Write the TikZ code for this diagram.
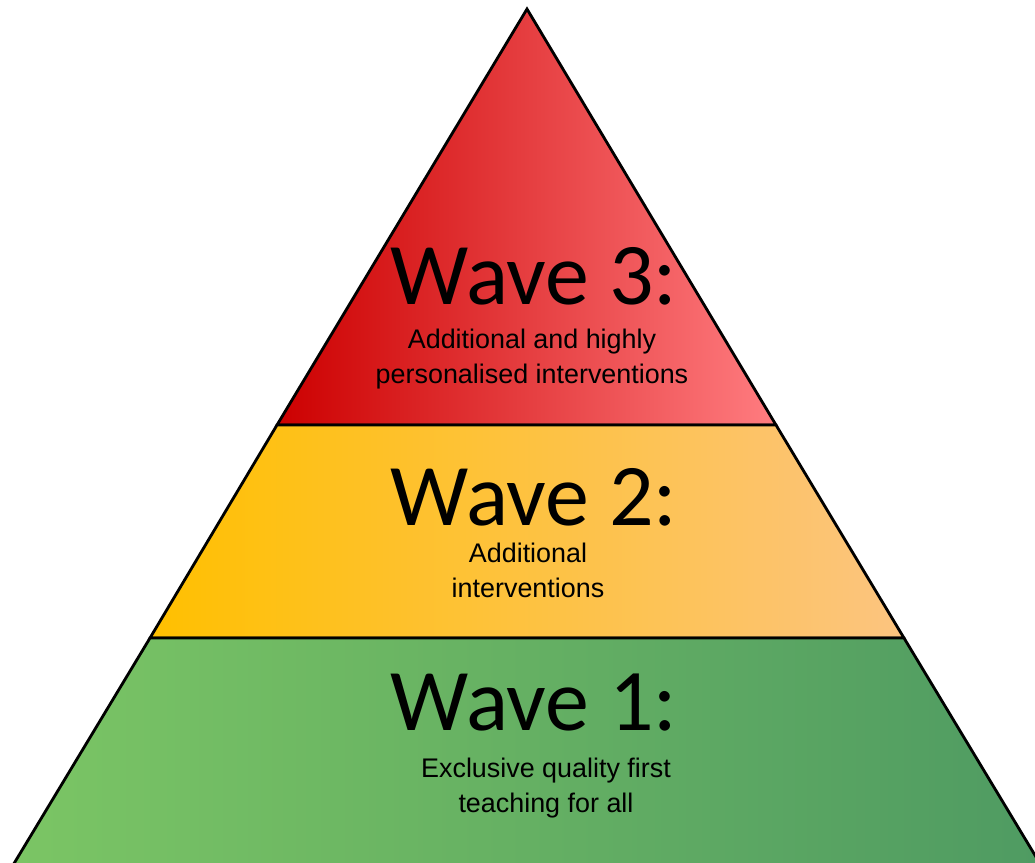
\documentclass[tikz,border=0pt]{standalone}
\usepackage{fontspec}
\setmainfont{Liberation Sans}
\newfontfamily\wavefont{Carlito}
\usetikzlibrary{positioning}

\definecolor{waveRedL}{RGB}{204,0,0}
\definecolor{waveRedR}{RGB}{255,124,128}
\definecolor{waveYelL}{RGB}{255,192,0}
\definecolor{waveYelR}{RGB}{252,196,128}
\definecolor{waveGrnL}{RGB}{124,198,100}
\definecolor{waveGrnR}{RGB}{78,154,98}

\tikzset{
    tier/.style={draw=black, line width=0.8pt, line join=miter},
    wavetitle/.style={font=\wavefont\fontsize{25}{30}\selectfont, anchor=base, inner sep=0pt},
    wavedesc/.style={font=\fontsize{7.65}{9.7}\selectfont, align=center, anchor=base, inner sep=0pt}
}

\begin{document}
\begin{tikzpicture}[x=0.01cm, y=-0.01cm]

    \useasboundingbox (0,0) rectangle (1035,863);
    \clip (0,0) rectangle (1035,863);

    % ===== Pyramid corners =====
    \coordinate (apex) at (527,9);
    \coordinate (redL) at (277,425);
    \coordinate (redR) at (776,425);
    \coordinate (yelL) at (150,638);
    \coordinate (yelR) at (904,638);
    \coordinate (grnL) at (-8,900);
    \coordinate (grnR) at (1062,900);

    % ===== Tiers =====
    % Wave 3 (top)
    \shade[left color=waveRedL, right color=waveRedR] (apex) -- (redR) -- (redL) -- cycle;
    \draw[tier] (apex) -- (redR) -- (redL) -- cycle;

    % Wave 2 (middle)
    \shade[left color=waveYelL, right color=waveYelR] (redL) -- (redR) -- (yelR) -- (yelL) -- cycle;
    \draw[tier] (redL) -- (redR) -- (yelR) -- (yelL) -- cycle;

    % Wave 1 (bottom)
    \shade[left color=waveGrnL, right color=waveGrnR] (yelL) -- (yelR) -- (grnR) -- (grnL) -- cycle;
    \draw[tier] (yelL) -- (yelR) -- (grnR) -- (grnL) -- cycle;

    % ===== Labels =====
    % (multi-line base anchor sits on the last line)
    \node[wavetitle] (wave3) at (534,304) {Wave 3:};
    \node[wavedesc] (desc3) at (532,383) {Additional and highly\\personalised interventions};

    \node[wavetitle] (wave2) at (534,525) {Wave 2:};
    \node[wavedesc] (desc2) at (528,597) {Additional\\interventions};

    \node[wavetitle] (wave1) at (534,730) {Wave 1:};
    \node[wavedesc] (desc1) at (546,812) {Exclusive quality first\\teaching for all};

\end{tikzpicture}
\end{document}
